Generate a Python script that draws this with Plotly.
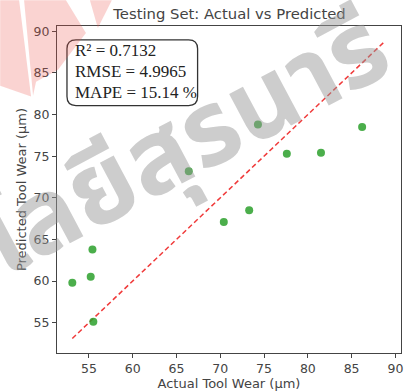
import plotly.graph_objects as go

# Test-set measurements (µm)
actual = [53.1, 55.2, 55.5, 55.4, 66.4, 70.4, 73.3, 74.3, 77.6, 81.5, 86.2]
predicted = [59.8, 60.5, 55.1, 63.8, 73.2, 67.1, 68.5, 78.8, 75.3, 75.4, 78.5]
ideal_line = [53.1, 88.8]
tick_vals = [55, 60, 65, 70, 75, 80, 85, 90]
metrics = ["R² = 0.7132", "RMSE = 4.9965", "MAPE = 15.14 %"]

W, H = 404, 391
ML, MR, MT, MB = 57, 2, 26, 36
PW, PH = W - ML - MR, H - MT - MB


def px(x, y):
    """Pixel position -> paper coordinates."""
    return (x - ML) / PW, (H - MB - y) / PH


def path(points):
    parts = []
    for i, (x, y) in enumerate(points):
        xp, yp = px(x, y)
        parts.append(("M" if i == 0 else "L") + f"{xp:.4f},{yp:.4f}")
    return " ".join(parts) + " Z"


def rounded_rect(x0, y0, x1, y1, r):
    def p(x, y):
        xp, yp = px(x, y)
        return f"{xp:.4f},{yp:.4f}"
    return (f"M{p(x0 + r, y0)} L{p(x1 - r, y0)} Q{p(x1, y0)} {p(x1, y0 + r)} "
            f"L{p(x1, y1 - r)} Q{p(x1, y1)} {p(x1 - r, y1)} L{p(x0 + r, y1)} "
            f"Q{p(x0, y1)} {p(x0, y1 - r)} L{p(x0, y0 + r)} Q{p(x0, y0)} {p(x0 + r, y0)} Z")


fig = go.Figure()

fig.add_trace(go.Scatter(
    x=ideal_line, y=ideal_line, mode="lines",
    line=dict(color="#f03a3a", width=1.5, dash="5px,3px"),
    hoverinfo="skip", showlegend=False,
))
fig.add_trace(go.Scatter(
    x=actual, y=predicted, mode="markers",
    marker=dict(color="#2ca02c", size=8, opacity=0.85),
    showlegend=False,
))

pink = "rgba(235,80,70,0.25)"
shapes = [
    # metrics box
    dict(type="path", xref="paper", yref="paper", layer="above",
         line=dict(color="#333333", width=1.3), fillcolor="white",
         path=rounded_rect(67, 40, 198, 106, 9)),
    # faint red logo fragment in the upper-left corner
    dict(type="path", xref="paper", yref="paper", layer="above", line_width=0,
         fillcolor=pink, path=path([(0, 0), (19, 0), (31, 97), (0, 86)])),
    dict(type="path", xref="paper", yref="paper", layer="above", line_width=0,
         fillcolor=pink, path=path([(24, 0), (66, 0), (86, 33), (58, 70), (36, 82), (33, 96)])),
    dict(type="path", xref="paper", yref="paper", layer="above", line_width=0,
         fillcolor=pink, path=path([(90, 0), (112, 0), (98, 28)])),
]

annotations = []
for i, t in enumerate(metrics):
    xp, yp = px(73, 51 + i * 21)
    annotations.append(dict(
        x=xp, y=yp, xref="paper", yref="paper", xanchor="left", yanchor="middle",
        text=t, showarrow=False,
        font=dict(family="Liberation Serif, Times New Roman, serif", size=17, color="#222222"),
    ))

wx, wy = px(185, 147)
annotations.append(dict(
    x=wx, y=wy, xref="paper", yref="paper", xanchor="center", yanchor="middle",
    text="<b>โลยีสุรนารี</b>", showarrow=False,
    textangle=-28, font=dict(family="Noto Sans Thai, Noto Sans, DejaVu Sans, sans-serif",
                             size=104, color="rgba(150,150,150,0.48)"),
))

axis_common = dict(
    range=[51.35, 90.64], tickvals=tick_vals, ticks="outside", ticklen=4,
    tickcolor="#444444", showline=True, linecolor="#444444", linewidth=1,
    mirror=True, showgrid=False, zeroline=False,
    tickfont=dict(family="DejaVu Sans, sans-serif", size=12.5, color="#444444"),
)

fig.update_layout(
    width=W, height=H, margin=dict(l=ML, r=MR, t=MT, b=MB),
    paper_bgcolor="white", plot_bgcolor="white",
    title=dict(text="Testing Set: Actual vs Predicted", x=(ML + PW / 2) / W, xanchor="center",
               y=1 - 14 / H, yanchor="middle",
               font=dict(family="DejaVu Sans, sans-serif", size=14.8, color="#444444")),
    xaxis=dict(axis_common, title=dict(text="Actual Tool Wear (µm)", standoff=4,
               font=dict(family="DejaVu Sans, sans-serif", size=13, color="#444444"))),
    yaxis=dict(axis_common, title=dict(text="Predicted Tool Wear (µm)", standoff=4,
               font=dict(family="DejaVu Sans, sans-serif", size=13, color="#444444"))),
    shapes=shapes, annotations=annotations,
)

fig.write_html("out.html")
